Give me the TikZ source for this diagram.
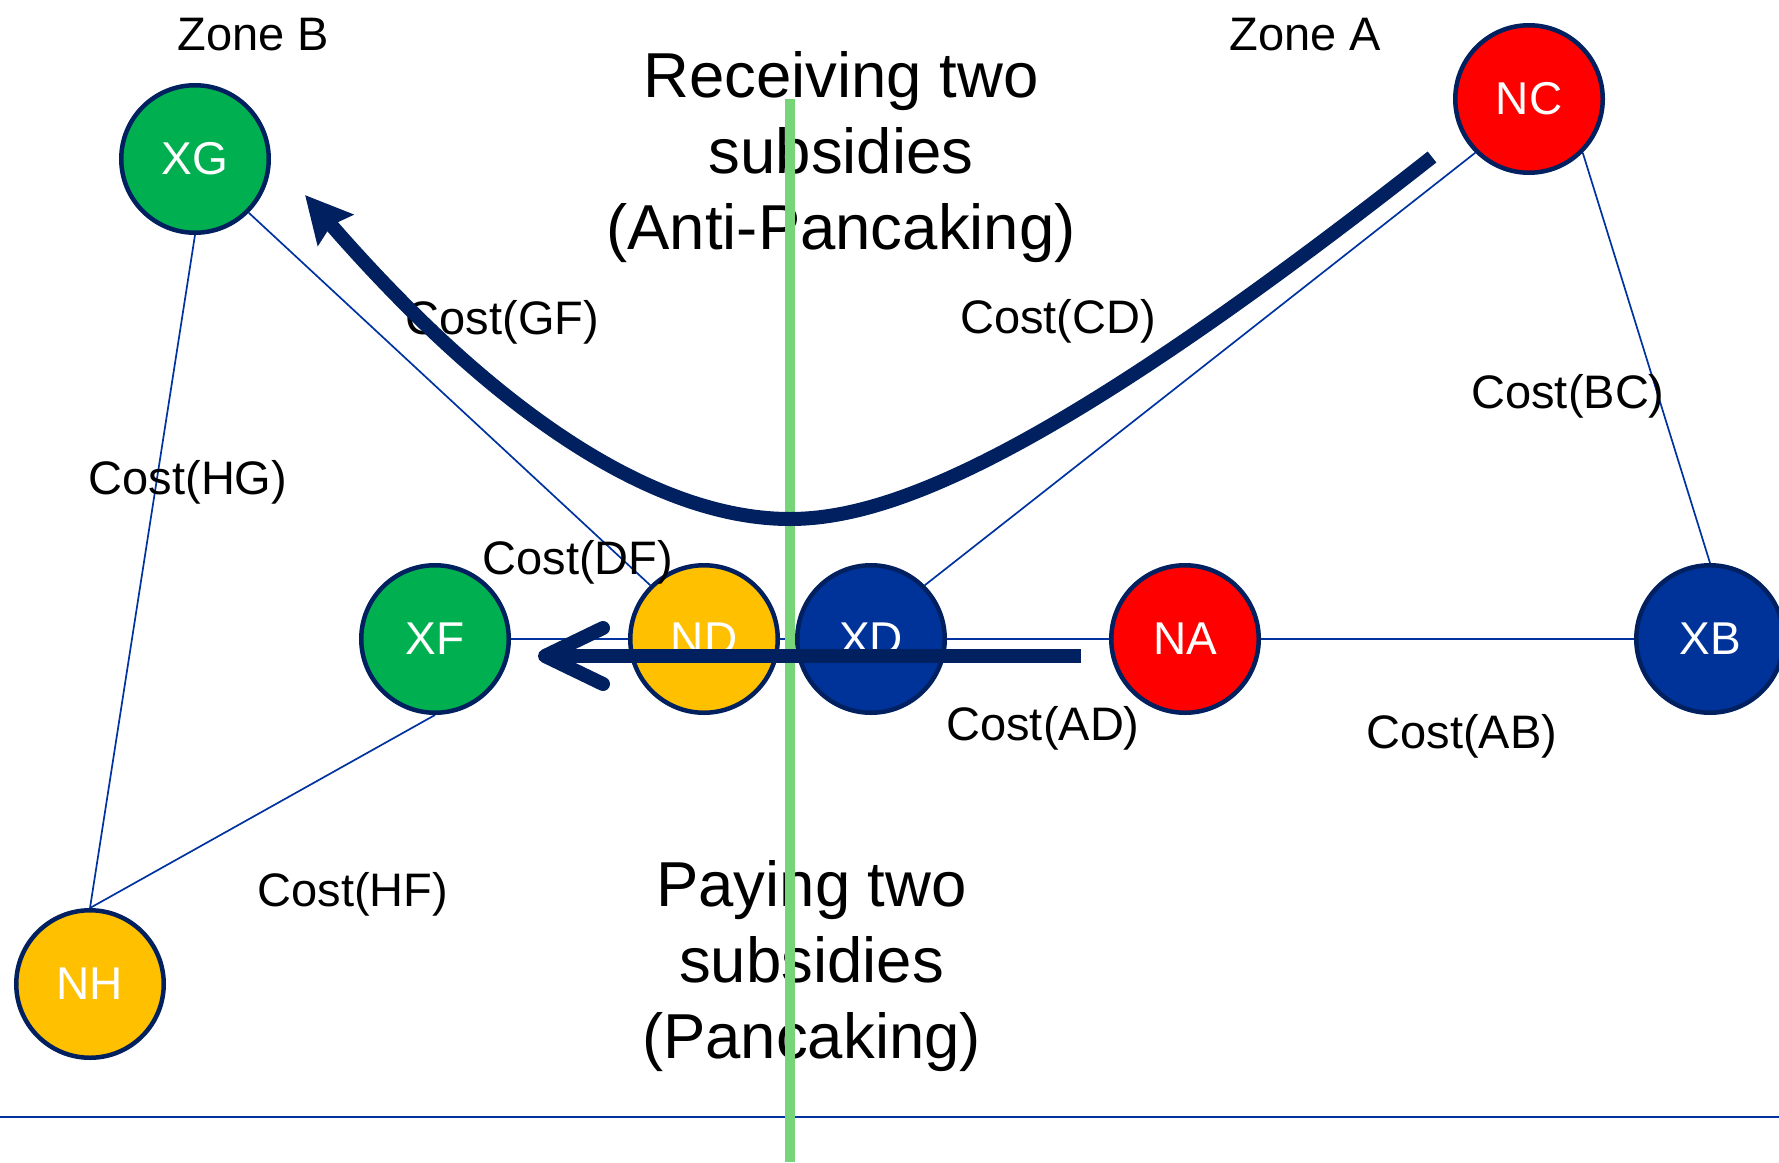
\documentclass[tikz,border=0pt]{standalone}
\usepackage{fontspec}
\setmainfont{Liberation Sans}
\usetikzlibrary{arrows.meta,backgrounds}

\definecolor{ringnavy}{RGB}{0,32,96}
\definecolor{linkblue}{RGB}{0,51,160}
\definecolor{fillgreen}{RGB}{0,176,80}
\definecolor{fillred}{RGB}{255,0,0}
\definecolor{fillgold}{RGB}{255,192,0}
\definecolor{fillblue}{RGB}{0,51,153}
\definecolor{dividegreen}{RGB}{120,212,120}
\definecolor{flownavy}{RGB}{0,32,96}

\begin{document}
\begin{tikzpicture}[x=1pt,y=-1pt,
  hub/.style={circle, draw=ringnavy, line width=4.5pt, minimum size=147.5pt,
    inner sep=0pt, text=white, font=\fontsize{46}{55}\selectfont},
  greenhub/.style={hub, fill=fillgreen},
  redhub/.style={hub, fill=fillred},
  goldhub/.style={hub, fill=fillgold},
  bluehub/.style={hub, fill=fillblue},
  link/.style={draw=linkblue, line width=1.7pt},
  costlbl/.style={anchor=base, inner sep=0pt, font=\fontsize{47}{56}\selectfont},
  bigtxt/.style={anchor=base, inner sep=0pt, font=\fontsize{63.5}{76}\selectfont},
  flow/.style={draw=flownavy, line width=14pt},
]
\useasboundingbox (0,0) rectangle (1779,1162);

% market hubs
\node[greenhub] (XG) at (195,159) {XG};
\node[redhub]   (NC) at (1529,99) {NC};
\node[greenhub] (XF) at (435,639) {XF};
\node[goldhub]  (ND) at (704,639) {ND};
\node[bluehub]  (XD) at (871,639) {XD};
\node[redhub]   (NA) at (1185,639) {NA};
\node[bluehub]  (XB) at (1710,639) {XB};
\node[goldhub]  (NH) at (90,984) {NH};

% transmission links, kept behind the hubs
\begin{scope}[on background layer]
\draw[link] (XG.south east) -- (ND.north west);
\draw[link] (NC.south west) -- (XD.north east);
\draw[link] (NC.south east) -- (XB.north);
\draw[link] (XG.south) -- (NH.north);
\draw[link] (XF.south) -- (NH.north);
\draw[link] (XF.east) -- (ND.west);
\draw[link] (ND.east) -- (XD.west);
\draw[link] (XD.east) -- (NA.west);
\draw[link] (NA.east) -- (XB.west);
\end{scope}

% zone titles
\node[costlbl] (zoneB) at (253.5,50) {Zone B};
\node[costlbl] (zoneA) at (1305.5,50) {Zone A};

% cost labels
\node[costlbl] (cGF) at (502.5,334) {Cost(GF)};
\node[costlbl] (cCD) at (1058,333) {Cost(CD)};
\node[costlbl] (cBC) at (1568,408) {Cost(BC)};
\node[costlbl] (cHG) at (188,494) {Cost(HG)};
\node[costlbl] (cDF) at (578,574) {Cost(DF)};
\node[costlbl] (cAD) at (1043,740) {Cost(AD)};
\node[costlbl] (cAB) at (1462,748) {Cost(AB)};
\node[costlbl] (cHF) at (353,906) {Cost(HF)};

% captions
\node[bigtxt] (recv) at (841,97)
  {\begin{tabular}[t]{@{}c@{}}Receiving two\\subsidies\\(Anti-Pancaking)\end{tabular}};
\node[bigtxt] (pay) at (811.5,906)
  {\begin{tabular}[t]{@{}c@{}}Paying two\\subsidies\\(Pancaking)\end{tabular}};

% baseline and zone divider
\coordinate (baseL) at (0,1117);
\coordinate (baseR) at (1779,1117);
\draw[link] (baseL) -- (baseR);
\coordinate (divTop) at (790,99);
\coordinate (divBot) at (790,1162);
\draw[draw=dividegreen, line width=10pt] (divTop) -- (divBot);

% subsidy flows
\coordinate (payStart) at (1081,656);
\coordinate (payEnd) at (538,656);
\draw[flow, -{Straight Barb[length=58pt, width=56pt, round]}] (payStart) -- (payEnd);

\coordinate (recvStart) at (1432,157);
\coordinate (recvLow) at (790,519);
\coordinate (recvEnd) at (305,195);
\draw[flow, -{Stealth[length=46pt, width=46pt, inset=6pt]}]
  (recvStart) .. controls (1052,456) and (890,519) .. (recvLow)
  .. controls (710,519) and (555,482) .. (recvEnd);
\end{tikzpicture}
\end{document}
